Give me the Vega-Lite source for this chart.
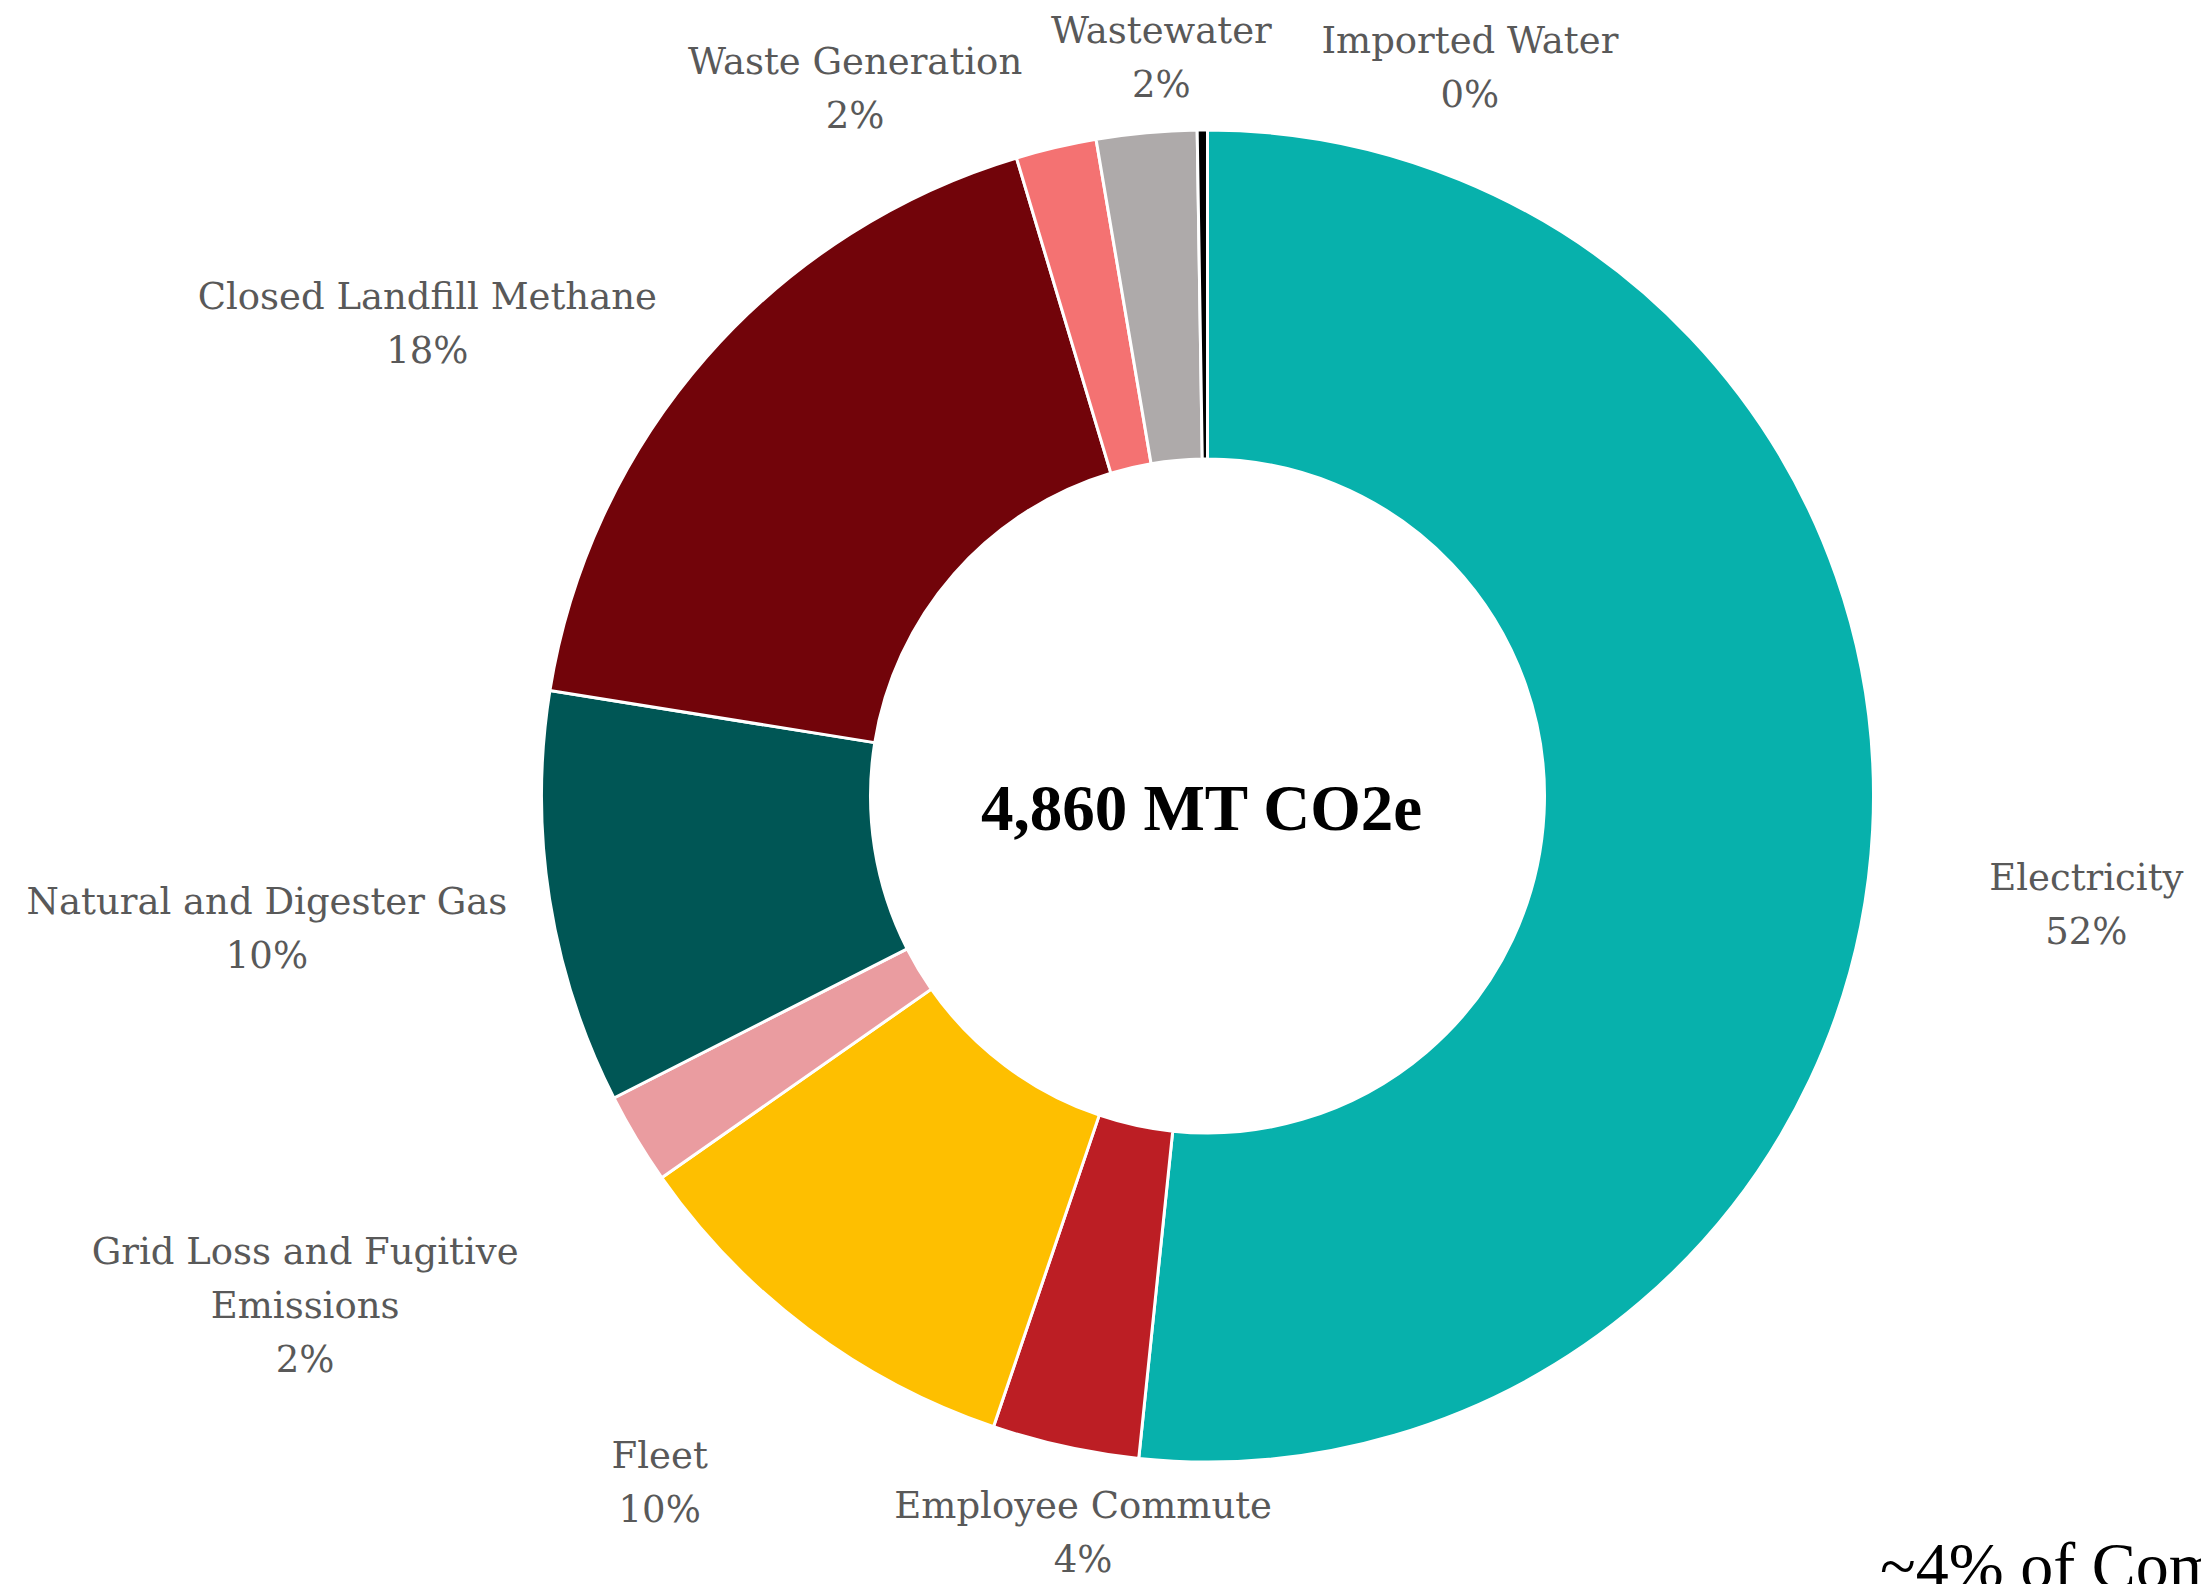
{
  "$schema": "https://vega.github.io/schema/vega-lite/v6.json",
  "width": 1987,
  "height": 1576,
  "autosize": "none",
  "padding": {"left": 214, "top": 8, "right": 0, "bottom": 0},
  "background": "white",
  "config": {"view": {"stroke": null}},
  "data": {"values": [
    {"idx": 1, "category": "Electricity", "value": 2510, "label": "Electricity\n52%"},
    {"idx": 2, "category": "Employee Commute", "value": 173, "label": "Employee Commute\n4%"},
    {"idx": 3, "category": "Fleet", "value": 490, "label": "Fleet\n10%"},
    {"idx": 4, "category": "Grid Loss and Fugitive Emissions", "value": 108, "label": "Grid Loss and Fugitive\nEmissions\n2%"},
    {"idx": 5, "category": "Natural and Digester Gas", "value": 487, "label": "Natural and Digester Gas\n10%"},
    {"idx": 6, "category": "Closed Landfill Methane", "value": 867, "label": "Closed Landfill Methane\n18%"},
    {"idx": 7, "category": "Waste Generation", "value": 95, "label": "Waste Generation\n2%"},
    {"idx": 8, "category": "Wastewater", "value": 118, "label": "Wastewater\n2%"},
    {"idx": 9, "category": "Imported Water", "value": 12, "label": "Imported Water\n0%"}
  ]},
  "layer": [
    {
      "mark": {"type": "arc", "innerRadius": 337, "outerRadius": 666, "stroke": "white", "strokeWidth": 3},
      "encoding": {
        "theta": {"field": "value", "type": "quantitative", "stack": true},
        "order": {"field": "idx", "type": "quantitative"},
        "color": {"field": "category", "type": "nominal", "legend": null,
          "scale": {"domain": ["Electricity", "Employee Commute", "Fleet", "Grid Loss and Fugitive Emissions", "Natural and Digester Gas", "Closed Landfill Methane", "Waste Generation", "Wastewater", "Imported Water"],
                    "range": ["#07B1AC", "#BC1E24", "#FEBF00", "#EA9CA0", "#005655", "#72040A", "#F47272", "#AEAAAA", "#000000"]}}
      }
    },
    {
      "mark": {"type": "text", "radius": 882, "dx": -2, "dy": 48, "align": "center", "baseline": "alphabetic", "font": "DejaVu Serif", "fontSize": 37, "lineHeight": 54, "lineBreak": "\n", "color": "#595959"},
      "encoding": {
        "theta": {"field": "value", "type": "quantitative", "stack": true},
        "order": {"field": "idx", "type": "quantitative"},
        "detail": {"field": "category", "type": "nominal"},
        "text": {"condition": {"test": "datum.category === 'Electricity'", "field": "label"}, "value": ""}
      }
    },
    {
      "mark": {"type": "text", "radius": 732, "dx": 32, "dy": 7, "align": "center", "baseline": "alphabetic", "font": "DejaVu Serif", "fontSize": 37, "lineHeight": 54, "lineBreak": "\n", "color": "#595959"},
      "encoding": {
        "theta": {"field": "value", "type": "quantitative", "stack": true},
        "order": {"field": "idx", "type": "quantitative"},
        "detail": {"field": "category", "type": "nominal"},
        "text": {"condition": {"test": "datum.category === 'Employee Commute'", "field": "label"}, "value": ""}
      }
    },
    {
      "mark": {"type": "text", "radius": 866, "dx": -28, "dy": -21, "align": "center", "baseline": "alphabetic", "font": "DejaVu Serif", "fontSize": 37, "lineHeight": 54, "lineBreak": "\n", "color": "#595959"},
      "encoding": {
        "theta": {"field": "value", "type": "quantitative", "stack": true},
        "order": {"field": "idx", "type": "quantitative"},
        "detail": {"field": "category", "type": "nominal"},
        "text": {"condition": {"test": "datum.category === 'Fleet'", "field": "label"}, "value": ""}
      }
    },
    {
      "mark": {"type": "text", "radius": 1015, "dx": -32, "dy": -54, "align": "center", "baseline": "alphabetic", "font": "DejaVu Serif", "fontSize": 37, "lineHeight": 54, "lineBreak": "\n", "color": "#595959"},
      "encoding": {
        "theta": {"field": "value", "type": "quantitative", "stack": true},
        "order": {"field": "idx", "type": "quantitative"},
        "detail": {"field": "category", "type": "nominal"},
        "text": {"condition": {"test": "datum.category === 'Grid Loss and Fugitive Emissions'", "field": "label"}, "value": ""}
      }
    },
    {
      "mark": {"type": "text", "radius": 944, "dx": -8, "dy": -28, "align": "center", "baseline": "alphabetic", "font": "DejaVu Serif", "fontSize": 37, "lineHeight": 54, "lineBreak": "\n", "color": "#595959"},
      "encoding": {
        "theta": {"field": "value", "type": "quantitative", "stack": true},
        "order": {"field": "idx", "type": "quantitative"},
        "detail": {"field": "category", "type": "nominal"},
        "text": {"condition": {"test": "datum.category === 'Natural and Digester Gas'", "field": "label"}, "value": ""}
      }
    },
    {
      "mark": {"type": "text", "radius": 907, "dx": -98, "dy": 111, "align": "center", "baseline": "alphabetic", "font": "DejaVu Serif", "fontSize": 37, "lineHeight": 54, "lineBreak": "\n", "color": "#595959"},
      "encoding": {
        "theta": {"field": "value", "type": "quantitative", "stack": true},
        "order": {"field": "idx", "type": "quantitative"},
        "detail": {"field": "category", "type": "nominal"},
        "text": {"condition": {"test": "datum.category === 'Closed Landfill Methane'", "field": "label"}, "value": ""}
      }
    },
    {
      "mark": {"type": "text", "radius": 784, "dx": -174, "dy": 41, "align": "center", "baseline": "alphabetic", "font": "DejaVu Serif", "fontSize": 37, "lineHeight": 54, "lineBreak": "\n", "color": "#595959"},
      "encoding": {
        "theta": {"field": "value", "type": "quantitative", "stack": true},
        "order": {"field": "idx", "type": "quantitative"},
        "detail": {"field": "category", "type": "nominal"},
        "text": {"condition": {"test": "datum.category === 'Waste Generation'", "field": "label"}, "value": ""}
      }
    },
    {
      "mark": {"type": "text", "radius": 754, "dx": 23, "dy": -2, "align": "center", "baseline": "alphabetic", "font": "DejaVu Serif", "fontSize": 37, "lineHeight": 54, "lineBreak": "\n", "color": "#595959"},
      "encoding": {
        "theta": {"field": "value", "type": "quantitative", "stack": true},
        "order": {"field": "idx", "type": "quantitative"},
        "detail": {"field": "category", "type": "nominal"},
        "text": {"condition": {"test": "datum.category === 'Wastewater'", "field": "label"}, "value": ""}
      }
    },
    {
      "mark": {"type": "text", "radius": 725, "dx": 268, "dy": -18, "align": "center", "baseline": "alphabetic", "font": "DejaVu Serif", "fontSize": 37, "lineHeight": 54, "lineBreak": "\n", "color": "#595959"},
      "encoding": {
        "theta": {"field": "value", "type": "quantitative", "stack": true},
        "order": {"field": "idx", "type": "quantitative"},
        "detail": {"field": "category", "type": "nominal"},
        "text": {"condition": {"test": "datum.category === 'Imported Water'", "field": "label"}, "value": ""}
      }
    },
    {
      "data": {"values": [{"total": "4,860 MT CO2e"}]},
      "mark": {"type": "text", "dx": -6, "dy": 34, "align": "center", "baseline": "alphabetic", "font": "Liberation Serif", "fontSize": 65, "fontWeight": "bold", "color": "#000000"},
      "encoding": {"text": {"field": "total", "type": "nominal"}}
    },
    {
      "data": {"values": [{"note": "~4% of Community Emissions"}]},
      "mark": {"type": "text", "x": {"expr": "width - 321"}, "y": {"expr": "height + 4"}, "align": "left", "baseline": "alphabetic", "font": "Liberation Serif", "fontSize": 66, "color": "#000000"},
      "encoding": {"text": {"field": "note", "type": "nominal"}}
    }
  ]
}
